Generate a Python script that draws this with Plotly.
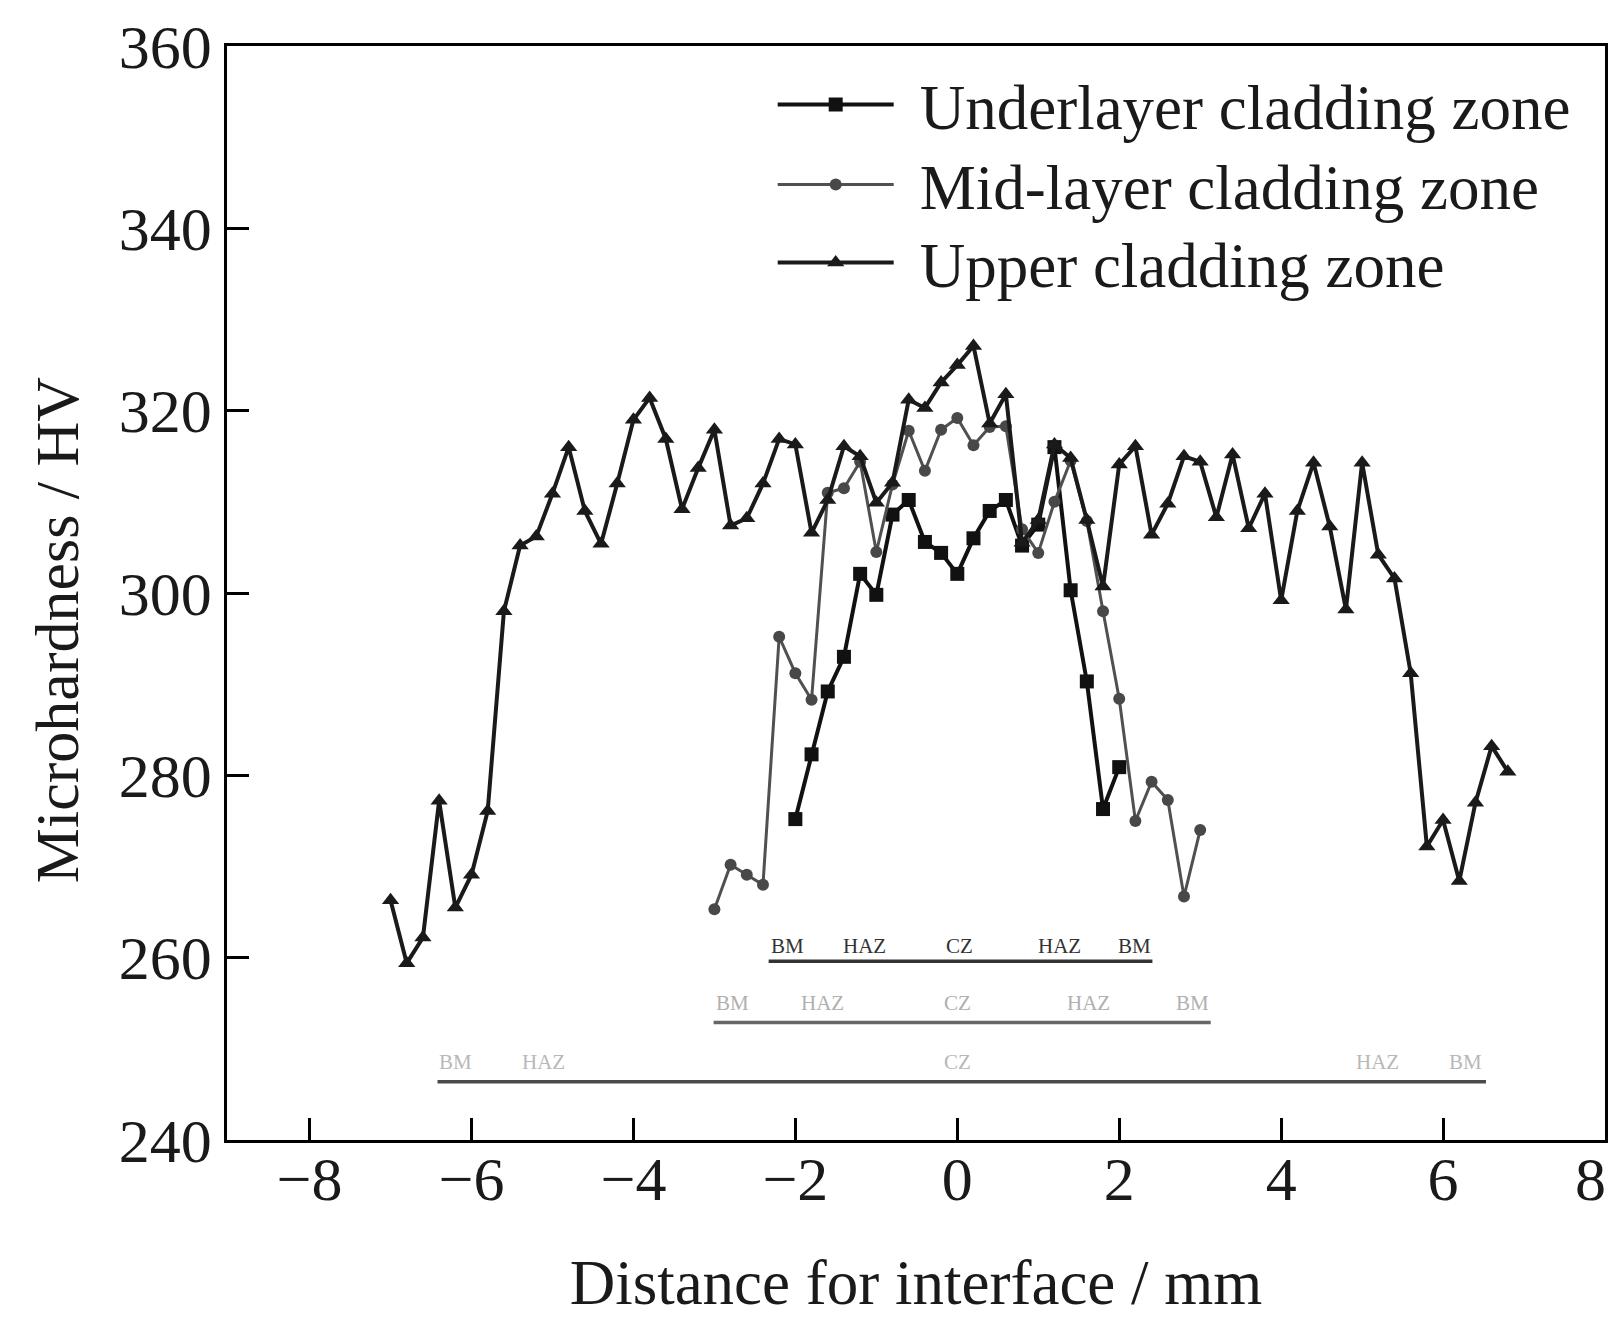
import plotly.graph_objects as go

# ---------------- data ----------------
x_under = [-2.0, -1.8, -1.6, -1.4, -1.2, -1.0, -0.8, -0.6, -0.4, -0.2, 0.0,
           0.2, 0.4, 0.6, 0.8, 1.0, 1.2, 1.4, 1.6, 1.8, 2.0]
y_under = [275.2, 282.3, 289.2, 293.0, 302.1, 299.8, 308.6, 310.2, 305.6, 304.4, 302.1,
           306.0, 309.0, 310.2, 305.2, 307.5, 316.0, 300.3, 290.3, 276.3, 280.9]

x_mid = [-3.0, -2.8, -2.6, -2.4, -2.2, -2.0, -1.8, -1.6, -1.4, -1.2, -1.0,
         -0.8, -0.6, -0.4, -0.2, 0.0, 0.2, 0.4, 0.6, 0.8, 1.0,
         1.2, 1.4, 1.6, 1.8, 2.0, 2.2, 2.4, 2.6, 2.8, 3.0]
y_mid = [265.3, 270.2, 269.1, 268.0, 295.2, 291.2, 288.3, 311.0, 311.5, 314.4, 304.5,
         311.9, 317.8, 313.4, 317.9, 319.2, 316.2, 318.2, 318.3, 307.0, 304.4,
         310.0, 314.5, 307.9, 298.0, 288.4, 275.0, 279.3, 277.3, 266.7, 274.0]

x_upper = [-7.0, -6.8, -6.6, -6.4, -6.2, -6.0, -5.8, -5.6, -5.4, -5.2,
           -5.0, -4.8, -4.6, -4.4, -4.2, -4.0, -3.8, -3.6, -3.4, -3.2,
           -3.0, -2.8, -2.6, -2.4, -2.2, -2.0, -1.8, -1.6, -1.4, -1.2,
           -1.0, -0.8, -0.6, -0.4, -0.2, 0.0, 0.2, 0.4, 0.6, 0.8,
           1.0, 1.2, 1.4, 1.6, 1.8, 2.0, 2.2, 2.4, 2.6, 2.8,
           3.0, 3.2, 3.4, 3.6, 3.8, 4.0, 4.2, 4.4, 4.6, 4.8,
           5.0, 5.2, 5.4, 5.6, 5.8, 6.0, 6.2, 6.4, 6.6, 6.8]
y_upper = [266.3, 259.4, 262.2, 277.2, 265.5, 269.1, 276.1, 298.0, 305.2, 306.2,
           310.9, 316.0, 309.0, 305.4, 312.0, 319.0, 321.4, 316.9, 309.2, 313.7,
           317.9, 307.4, 308.2, 312.0, 316.9, 316.3, 306.6, 310.2, 316.1, 315.0,
           309.9, 312.1, 321.2, 320.3, 323.1, 325.0, 327.1, 318.6, 321.8, 305.5,
           308.0, 316.3, 314.8, 308.0, 300.7, 314.1, 316.1, 306.4, 309.8, 315.0,
           314.4, 308.3, 315.2, 307.1, 310.9, 299.2, 309.0, 314.3, 307.3, 298.2,
           314.3, 304.2, 301.6, 291.2, 272.2, 275.1, 268.4, 277.0, 283.2, 280.4]

series_names = ["Underlayer cladding zone", "Mid-layer cladding zone", "Upper cladding zone"]

# zone brackets (one per series): span and label positions
zone_labels = ["BM", "HAZ", "CZ", "HAZ", "BM"]
bracket_spans = [(-2.33, 2.41), (-3.01, 3.13), (-6.42, 6.53)]
bracket_levels = [259.6, 252.9, 246.4]
label_levels = [261.3, 255.0, 248.6]
label_x = [[-2.10, -1.15, 0.03, 1.26, 2.19],
           [-2.78, -1.67, 0.00, 1.62, 2.90],
           [-6.20, -5.11, 0.00, 5.19, 6.28]]
label_colors = ["#333333", "#b0b0b0", "#b8b8b8"]
line_colors = ["#333333", "#666666", "#4a4a4a"]

x_ticks = [-8, -6, -4, -2, 0, 2, 4, 6, 8]
x_ticktext = ["\u22128", "\u22126", "\u22124", "\u22122", "0", "2", "4", "6", ""]
edge_tick_label = "8"          # last x tick label, drawn separately so it stays inside the page
y_ticks = [240, 260, 280, 300, 320, 340, 360]

FONT = "Liberation Serif, Times New Roman, serif"
GAP = "\u00a0\u200a"
legend_rows_y = [0.9465, 0.8734, 0.8021]

fig = go.Figure()

# bracket lines drawn as traces from the span lists
for (x0, x1), yl, lc in zip(bracket_spans, bracket_levels, line_colors):
    fig.add_trace(go.Scatter(x=[x0, x1], y=[yl, yl], mode="lines",
                             line=dict(color=lc, width=3.5), showlegend=False,
                             hoverinfo="skip"))

fig.add_trace(go.Scatter(x=x_under, y=y_under, mode="lines+markers", name=GAP + series_names[0],
                         legend="legend",
                         line=dict(color="#111111", width=4),
                         marker=dict(symbol="square", size=14, color="#111111")))
fig.add_trace(go.Scatter(x=x_mid, y=y_mid, mode="lines+markers", name=GAP + series_names[1],
                         legend="legend2",
                         line=dict(color="#505050", width=3),
                         marker=dict(symbol="circle", size=12, color="#484848")))
fig.add_trace(go.Scatter(x=x_upper, y=y_upper, mode="lines+markers", name=GAP + series_names[2],
                         legend="legend3",
                         line=dict(color="#1a1a1a", width=4),
                         marker=dict(symbol="triangle-up", size=15, color="#1a1a1a")))

for xs, yl, col in zip(label_x, label_levels, label_colors):
    for xv, txt in zip(xs, zone_labels):
        fig.add_annotation(x=xv, y=yl, text=txt, showarrow=False,
                           font=dict(family=FONT, size=21, color=col),
                           xanchor="center", yanchor="middle")

# last x tick label (kept just inside the right page edge)
fig.add_annotation(x=x_ticks[-1], xref="x", y=0, yref="paper", text=edge_tick_label,
                   showarrow=False, xanchor="center", yanchor="middle",
                   xshift=-15, yshift=-39,
                   font=dict(family=FONT, size=62, color="#1a1a1a"))

# y-axis title placed as an annotation (it sits a little below the axis centre)
fig.add_annotation(xref="paper", yref="paper", x=-0.1234, y=0.466,
                   text="Microhardness / HV", textangle=-90, showarrow=False,
                   font=dict(family=FONT, size=62, color="#1a1a1a"),
                   xanchor="center", yanchor="middle")

axis_common = dict(showline=True, linecolor="black", linewidth=2.5, mirror=True,
                   ticks="inside", tickcolor="black", tickwidth=2.5, ticklen=22,
                   showgrid=False, zeroline=False, automargin=False,
                   tickfont=dict(family=FONT, size=62, color="#1a1a1a"))

def legend_at(yv):
    return dict(x=0.396, y=yv, xanchor="left", yanchor="middle",
                font=dict(family=FONT, size=63, color="#1a1a1a"),
                itemwidth=116, bgcolor="rgba(0,0,0,0)")

fig.update_layout(
    width=1602, height=1310,
    margin=dict(l=219, r=5, t=38, b=178),
    paper_bgcolor="white", plot_bgcolor="white",
    font=dict(family=FONT, color="#1a1a1a"),
    xaxis=dict(range=[-9.02, 8.0], tickvals=x_ticks, ticktext=x_ticktext,
               ticklabelstandoff=-17,
               title=dict(text="Distance for interface / mm",
                          font=dict(family=FONT, size=63), standoff=56),
               **axis_common),
    yaxis=dict(range=[240, 360], tickvals=y_ticks, **axis_common),
    legend=legend_at(legend_rows_y[0]),
    legend2=legend_at(legend_rows_y[1]),
    legend3=legend_at(legend_rows_y[2]),
    showlegend=True,
)

fig.write_html("out.html")
